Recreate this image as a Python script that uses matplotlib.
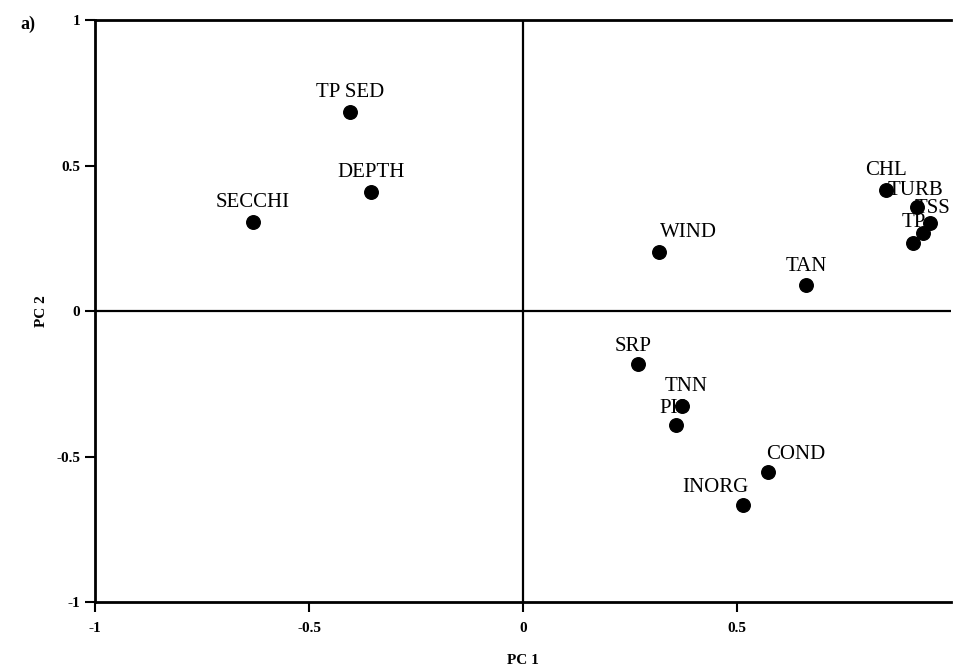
import matplotlib
matplotlib.use("Agg")
import matplotlib.pyplot as plt

names = ["TP SED", "DEPTH", "SECCHI", "CHL", "TURB", "TSS", "TP", "", "WIND", "TAN",
         "SRP", "TNN", "PH", "COND", "INORG"]
pc1 = [-0.404, -0.355, -0.631, 0.848, 0.921, 0.951, 0.935, 0.911, 0.318, 0.661,
       0.269, 0.371, 0.357, 0.572, 0.514]
pc2 = [0.684, 0.409, 0.306, 0.416, 0.357, 0.302, 0.268, 0.234, 0.203, 0.089,
       -0.182, -0.326, -0.392, -0.553, -0.667]
# label offsets in points (dx, dy)
offs = [(0, 7), (0, 7), (0, 7), (0, 7), (-1, 5), (2, 4), (-7, 1), (0, 0), (21, 7), (0, 7),
        (-4, 6), (3, 7), (-2, 5), (20, 6), (-20, 6)]

ticks = [-1, -0.5, 0, 0.5]
xlabels = ["-1", "-0.5", "0", "0.5"]
yticks = [-1, -0.5, 0, 0.5, 1]
ylabels = ["-1", "-0.5", "0", "0.5", "1"]

plt.rcParams['font.family'] = ['Liberation Serif', 'DejaVu Serif']

fig = plt.figure(figsize=(9.54, 6.72), dpi=100)
ax = fig.add_axes([0.0996, 0.104, 0.8974, 0.866])
ax.set_xlim(-1, 1)
ax.set_ylim(-1, 1)

ax.axhline(0, color='black', linewidth=1.6)
ax.axvline(0, color='black', linewidth=1.6)
ax.scatter(pc1, pc2, s=95, color='black', zorder=3)
for n, x, y, o in zip(names, pc1, pc2, offs):
    if n:
        ax.annotate(n, (x, y), xytext=o, textcoords='offset points',
                    ha='center', va='bottom', fontsize=15)

ax.spines['right'].set_visible(False)
for s in ['left', 'bottom', 'top']:
    ax.spines[s].set_linewidth(2)
ax.set_xticks(ticks)
ax.set_xticklabels(xlabels, fontsize=11, fontweight='bold')
ax.set_yticks(yticks)
ax.set_yticklabels(ylabels, fontsize=11, fontweight='bold')
ax.tick_params(length=7, width=1.5, direction='out')
ax.tick_params(axis='x', pad=7)
ax.set_xlabel("PC 1", fontsize=11, fontweight='bold', labelpad=14)
ax.set_ylabel("PC 2", fontsize=11, fontweight='bold', labelpad=6)
fig.text(0.021, 0.977, "a)", fontsize=13, fontweight='bold', va='top')

plt.savefig("out.png", dpi=100)
